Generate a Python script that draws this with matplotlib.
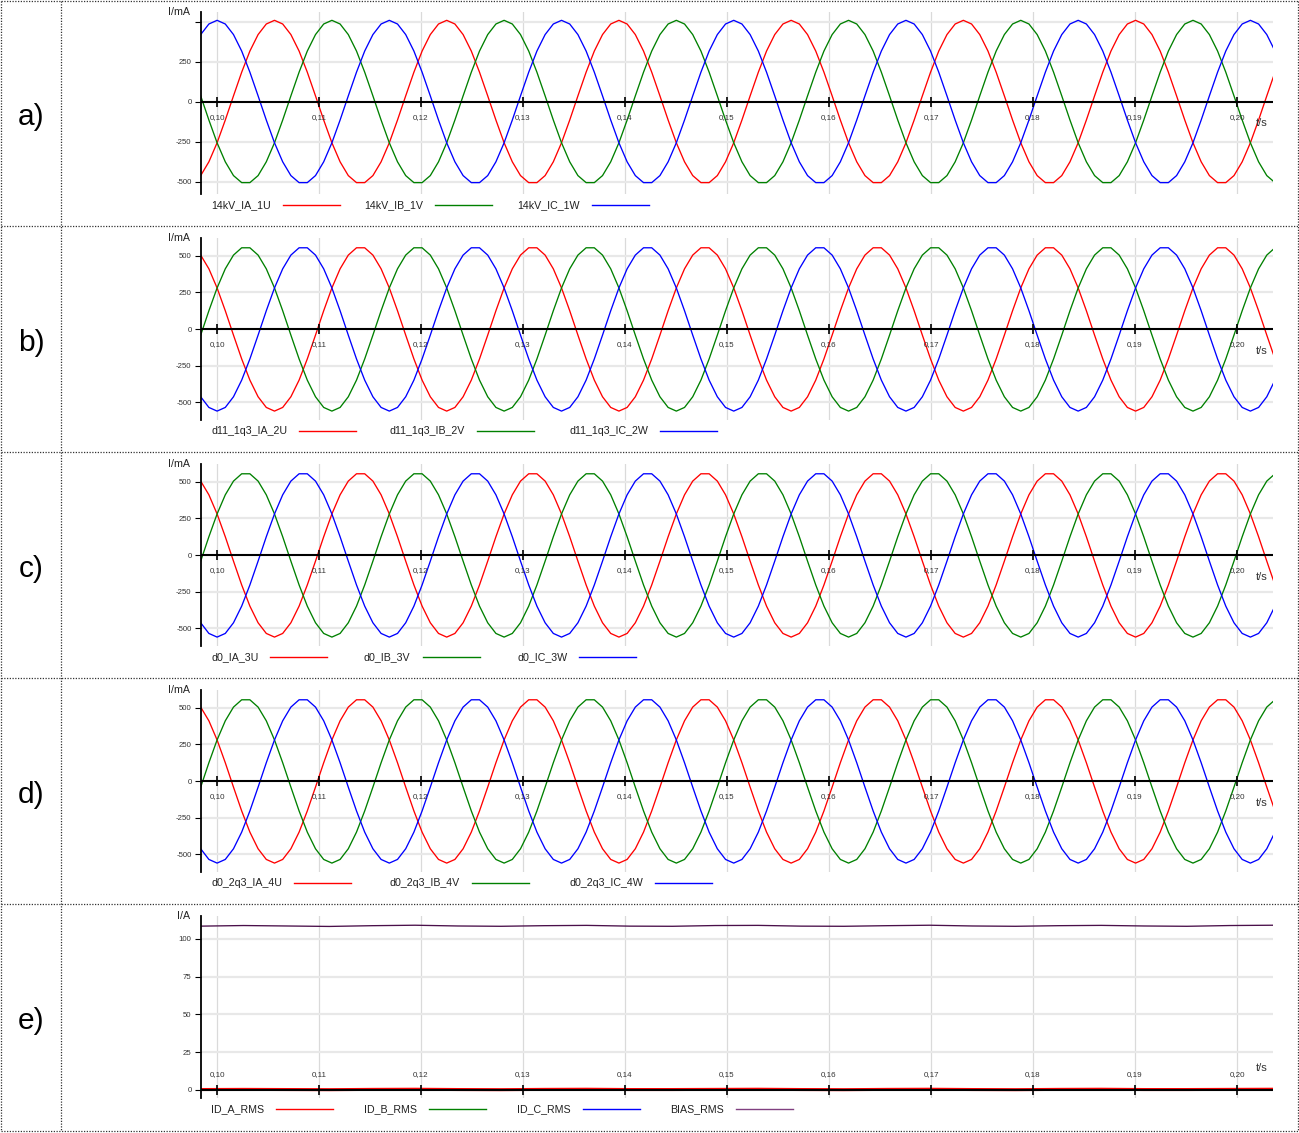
import numpy as np
import matplotlib
matplotlib.use('Agg')
import matplotlib.pyplot as plt
from matplotlib.lines import Line2D

plt.rcParams['font.family'] = ['Liberation Sans', 'DejaVu Sans']

W, H = 1299, 1133

# sampled currents (mA), one sample every DT seconds starting at T_START
T_START = 0.0984
DT = 0.000804

ia_1u = [-460, -374, -255, -113, 38, 186, 318, 421, 487, 510, 487, 421, 318, 186, 38, -113, -255, -374, -460, -504, -504,
         -460, -374, -255, -113, 38, 186, 318, 421, 487, 510, 487, 421, 318, 186, 38, -113, -255, -374, -460, -504, -504,
         -460, -374, -255, -113, 38, 186, 318, 421, 487, 510, 487, 421, 318, 186, 38, -113, -255, -374, -460, -504, -504,
         -460, -374, -255, -113, 38, 186, 318, 421, 487, 510, 487, 421, 318, 186, 38, -113, -255, -374, -460, -504, -504,
         -460, -374, -255, -113, 38, 186, 318, 421, 487, 510, 487, 421, 318, 186, 38, -113, -255, -374, -460, -504, -504,
         -460, -374, -255, -113, 38, 186, 318, 421, 487, 510, 487, 421, 318, 186, 38, -113, -255, -374, -460, -504, -504,
         -460, -374, -255, -113, 38, 186]
ib_1v = [38, -113, -255, -374, -460, -504, -504, -460, -374, -255, -113, 38, 186, 318, 421, 487, 510, 487, 421, 318, 186,
         38, -113, -255, -374, -460, -504, -504, -460, -374, -255, -113, 38, 186, 318, 421, 487, 510, 487, 421, 318, 186,
         38, -113, -255, -374, -460, -504, -504, -460, -374, -255, -113, 38, 186, 318, 421, 487, 510, 487, 421, 318, 186,
         38, -113, -255, -374, -460, -504, -504, -460, -374, -255, -113, 38, 186, 318, 421, 487, 510, 487, 421, 318, 186,
         38, -113, -255, -374, -460, -504, -504, -460, -374, -255, -113, 38, 186, 318, 421, 487, 510, 487, 421, 318, 186,
         38, -113, -255, -374, -460, -504, -504, -460, -374, -255, -113, 38, 186, 318, 421, 487, 510, 487, 421, 318, 186,
         38, -113, -255, -374, -460, -504]
ic_1w = [421, 487, 510, 487, 421, 318, 186, 38, -113, -255, -374, -460, -504, -504, -460, -374, -255, -113, 38, 186, 318,
         421, 487, 510, 487, 421, 318, 186, 38, -113, -255, -374, -460, -504, -504, -460, -374, -255, -113, 38, 186, 318,
         421, 487, 510, 487, 421, 318, 186, 38, -113, -255, -374, -460, -504, -504, -460, -374, -255, -113, 38, 186, 318,
         421, 487, 510, 487, 421, 318, 186, 38, -113, -255, -374, -460, -504, -504, -460, -374, -255, -113, 38, 186, 318,
         421, 487, 510, 487, 421, 318, 186, 38, -113, -255, -374, -460, -504, -504, -460, -374, -255, -113, 38, 186, 318,
         421, 487, 510, 487, 421, 318, 186, 38, -113, -255, -374, -460, -504, -504, -460, -374, -255, -113, 38, 186, 318,
         421, 487, 510, 487, 421, 318]

ia_2u = [506, 412, 281, 125, -42, -205, -350, -464, -537, -562, -537, -464, -350, -205, -42, 125, 281, 412, 506, 556, 556,
         506, 412, 281, 125, -42, -205, -350, -464, -537, -562, -537, -464, -350, -205, -42, 125, 281, 412, 506, 556, 556,
         506, 412, 281, 125, -42, -205, -350, -464, -537, -562, -537, -464, -350, -205, -42, 125, 281, 412, 506, 556, 556,
         506, 412, 281, 125, -42, -205, -350, -464, -537, -562, -537, -464, -350, -205, -42, 125, 281, 412, 506, 556, 556,
         506, 412, 281, 125, -42, -205, -350, -464, -537, -562, -537, -464, -350, -205, -42, 125, 281, 412, 506, 556, 556,
         506, 412, 281, 125, -42, -205, -350, -464, -537, -562, -537, -464, -350, -205, -42, 125, 281, 412, 506, 556, 556,
         506, 412, 281, 125, -42, -205]
ib_2v = [-42, 125, 281, 412, 506, 556, 556, 506, 412, 281, 125, -42, -205, -350, -464, -537, -562, -537, -464, -350, -205,
         -42, 125, 281, 412, 506, 556, 556, 506, 412, 281, 125, -42, -205, -350, -464, -537, -562, -537, -464, -350, -205,
         -42, 125, 281, 412, 506, 556, 556, 506, 412, 281, 125, -42, -205, -350, -464, -537, -562, -537, -464, -350, -205,
         -42, 125, 281, 412, 506, 556, 556, 506, 412, 281, 125, -42, -205, -350, -464, -537, -562, -537, -464, -350, -205,
         -42, 125, 281, 412, 506, 556, 556, 506, 412, 281, 125, -42, -205, -350, -464, -537, -562, -537, -464, -350, -205,
         -42, 125, 281, 412, 506, 556, 556, 506, 412, 281, 125, -42, -205, -350, -464, -537, -562, -537, -464, -350, -205,
         -42, 125, 281, 412, 506, 556]
ic_2w = [-464, -537, -562, -537, -464, -350, -205, -42, 125, 281, 412, 506, 556, 556, 506, 412, 281, 125, -42, -205, -350,
         -464, -537, -562, -537, -464, -350, -205, -42, 125, 281, 412, 506, 556, 556, 506, 412, 281, 125, -42, -205, -350,
         -464, -537, -562, -537, -464, -350, -205, -42, 125, 281, 412, 506, 556, 556, 506, 412, 281, 125, -42, -205, -350,
         -464, -537, -562, -537, -464, -350, -205, -42, 125, 281, 412, 506, 556, 556, 506, 412, 281, 125, -42, -205, -350,
         -464, -537, -562, -537, -464, -350, -205, -42, 125, 281, 412, 506, 556, 556, 506, 412, 281, 125, -42, -205, -350,
         -464, -537, -562, -537, -464, -350, -205, -42, 125, 281, 412, 506, 556, 556, 506, 412, 281, 125, -42, -205, -350,
         -464, -537, -562, -537, -464, -350]

# panels c) and d) show the same currents as b)
ia_3u, ib_3v, ic_3w = ia_2u, ib_2v, ic_2w
ia_4u, ib_4v, ic_4w = ia_2u, ib_2v, ic_2w

# rms values (A), coarser sampling over the same window
bias_rms = [108.3, 108.7, 108.4, 108.1, 108.6, 108.9, 108.4, 108.2, 108.6, 108.8, 108.3, 108.2, 108.7,
            108.8, 108.3, 108.2, 108.6, 108.9, 108.4, 108.2, 108.6, 108.8, 108.4, 108.2, 108.7, 108.9]
id_a_rms = [0.3, 0.4, 0.3, 0.2, 0.4, 0.5, 0.3, 0.2, 0.4, 0.5, 0.3, 0.3, 0.4,
            0.5, 0.3, 0.2, 0.4, 0.5, 0.3, 0.2, 0.4, 0.5, 0.3, 0.3, 0.4, 0.5]
id_b_rms = [0.2, 0.3, 0.2, 0.2, 0.3, 0.3, 0.2, 0.2, 0.3, 0.3, 0.2, 0.2, 0.3,
            0.3, 0.2, 0.2, 0.3, 0.3, 0.2, 0.2, 0.3, 0.3, 0.2, 0.2, 0.3, 0.3]
id_c_rms = [0.2, 0.2, 0.3, 0.2, 0.2, 0.3, 0.2, 0.2, 0.3, 0.2, 0.2, 0.3, 0.2,
            0.2, 0.3, 0.2, 0.2, 0.3, 0.2, 0.2, 0.3, 0.2, 0.2, 0.3, 0.2, 0.2]

x_ticks = [0.10, 0.11, 0.12, 0.13, 0.14, 0.15, 0.16, 0.17, 0.18, 0.19, 0.20]
x_tick_labels = ['0,10', '0,11', '0,12', '0,13', '0,14', '0,15', '0,16', '0,17', '0,18', '0,19', '0,20']

RED, GREEN, BLUE, PURPLE = '#ff0000', '#008000', '#0000ff', '#4a0f4a'

time = T_START + DT * np.arange(len(ia_1u))
time_rms = np.linspace(0.0984, 0.2035, len(bias_rms))

panels = [
    dict(tag='a)', ylim=(-575, 562), yticks=[-500, -250, 0, 250, 500],
         ylabels=['-500', '-250', '0', '250', ''], unit='I/mA', colw=153,
         series=[('14kV_IA_1U', time, ia_1u, RED), ('14kV_IB_1V', time, ib_1v, GREEN),
                 ('14kV_IC_1W', time, ic_1w, BLUE)]),
    dict(tag='b)', ylim=(-623, 623), yticks=[-500, -250, 0, 250, 500],
         ylabels=['-500', '-250', '0', '250', '500'], unit='I/mA', colw=179,
         series=[('d11_1q3_IA_2U', time, ia_2u, RED), ('d11_1q3_IB_2V', time, ib_2v, GREEN),
                 ('d11_1q3_IC_2W', time, ic_2w, BLUE)]),
    dict(tag='c)', ylim=(-623, 623), yticks=[-500, -250, 0, 250, 500],
         ylabels=['-500', '-250', '0', '250', '500'], unit='I/mA', colw=153,
         series=[('d0_IA_3U', time, ia_3u, RED), ('d0_IB_3V', time, ib_3v, GREEN),
                 ('d0_IC_3W', time, ic_3w, BLUE)]),
    dict(tag='d)', ylim=(-623, 623), yticks=[-500, -250, 0, 250, 500],
         ylabels=['-500', '-250', '0', '250', '500'], unit='I/mA', colw=179,
         series=[('d0_2q3_IA_4U', time, ia_4u, RED), ('d0_2q3_IB_4V', time, ib_4v, GREEN),
                 ('d0_2q3_IC_4W', time, ic_4w, BLUE)]),
    dict(tag='e)', ylim=(-5.3, 115), yticks=[0, 25, 50, 75, 100],
         ylabels=['0', '25', '50', '75', '100'], unit='I/A', colw=153,
         series=[('ID_B_RMS', time_rms, id_b_rms, GREEN), ('ID_C_RMS', time_rms, id_c_rms, BLUE),
                 ('ID_A_RMS', time_rms, id_a_rms, RED), ('BIAS_RMS', time_rms, bias_rms, PURPLE)],
         legend_order=['ID_A_RMS', 'ID_B_RMS', 'ID_C_RMS', 'BIAS_RMS']),
]

fig = plt.figure(figsize=(W / 100, H / 100), dpi=100)
renderer = fig.canvas.get_renderer()


def fx(x):
    return x / W


def fy(y):
    return 1 - y / H


def fig_line(x0, y0, x1, y1, **kw):
    fig.add_artist(Line2D([fx(x0), fx(x1)], [fy(y0), fy(y1)], transform=fig.transFigure, **kw))


# dotted frame
dot = dict(color='#333333', lw=0.9, linestyle=(0, (1, 1.2)))
fig_line(0.5, 1, 1298, 1, **dot)
fig_line(0.5, 1131, 1298, 1131, **dot)
fig_line(0.5, 1, 0.5, 1131, **dot)
fig_line(1298, 1, 1298, 1131, **dot)
fig_line(61, 1, 61, 1131, **dot)
for yb in [226, 452, 678, 904]:
    fig_line(0.5, yb, 1298, yb, **dot)

XMIN, XMAX = 0.098431, 0.203529

for i, p in enumerate(panels):
    top = 12 + 226 * i
    ax = fig.add_axes([201 / W, 1 - (top + 182) / H, 1072 / W, 182 / H])
    ax.set_xlim(XMIN, XMAX)
    ax.set_ylim(*p['ylim'])
    for s in ['top', 'right', 'bottom']:
        ax.spines[s].set_visible(False)
    ax.spines['left'].set_linewidth(1.3)
    ax.set_xticks([])
    ax.set_yticks(p['yticks'])
    ax.set_yticklabels(p['ylabels'])
    ax.tick_params(axis='y', length=4.3, width=0.8, pad=2.5, labelsize=5.6, labelcolor='#333333')

    # grid
    for xt in x_ticks:
        ax.axvline(xt, color='#dadada', lw=0.9, zorder=0)
    for yt in p['yticks']:
        if yt != 0:
            ax.axhline(yt, color='#e8e8e8', lw=1.6, zorder=0)

    for name, t, vals, col in p['series']:
        lw = 2.2 if name == 'ID_A_RMS' else 0.95
        ax.plot(t, vals, color=col, lw=lw, zorder=2)

    # time axis through zero
    ax.axhline(0, color='black', lw=1.5, zorder=3)
    ax.plot(x_ticks, [0] * len(x_ticks), ls='none', marker='|', markersize=7, mew=1.2,
            color='black', zorder=4, clip_on=False)
    sign = 1 if p['tag'] == 'e)' else -1
    for xt, lab in zip(x_ticks, x_tick_labels):
        ax.annotate(lab, (xt, 0), xytext=(0, sign * 11.2), textcoords='offset points',
                    ha='center', va='center', fontsize=5.8, color='#333333')
    ax.annotate('t/s', (0.20245, 0), xytext=(0, sign * 15.5), textcoords='offset points',
                ha='center', va='center', fontsize=8, color='#333333')
    ax.annotate(p['unit'], (0, 1), xycoords='axes fraction', xytext=(-8, 0),
                textcoords='offset points', ha='right', va='center', fontsize=7.7, color='#222222')

    # panel tag
    fig.text(fx(31), fy(117 + 226 * i), p['tag'], ha='center', va='center', fontsize=21.5)

    # legend row under the panel
    ly = 205 + 226 * i
    colors = {name: col for name, t, vals, col in p['series']}
    order = p.get('legend_order', [s[0] for s in p['series']])
    leg_colors = dict(colors)
    leg_colors['BIAS_RMS'] = '#804080'
    for j, name in enumerate(order):
        x0 = 211 + j * p['colw']
        txt = fig.text(fx(x0), fy(ly), name, ha='left', va='center', fontsize=7.7, color='#222222')
        bb = txt.get_window_extent(renderer=renderer)
        lx0 = bb.x1 + 12
        fig_line(lx0, ly, lx0 + 57, ly, color=leg_colors[name], lw=1.0)

fig.savefig('out.png', dpi=100)
